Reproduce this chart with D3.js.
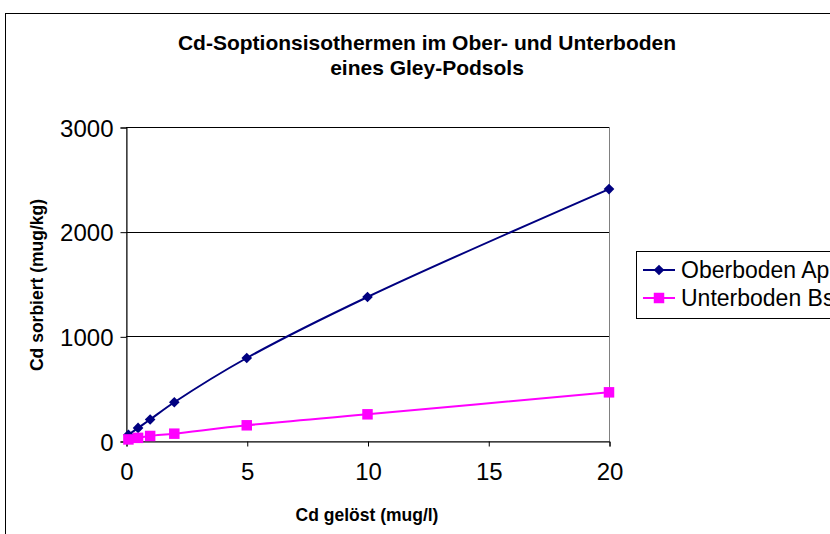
<!DOCTYPE html>
<html>
<head>
<meta charset="utf-8">
<script src="https://cdn.jsdelivr.net/npm/d3@7"></script>
<style>
  html, body { margin: 0; padding: 0; background: #fff; }
  svg { display: block; font-family: "Liberation Sans", Arial, sans-serif; }
</style>
</head>
<body>
<svg id="chart" width="830" height="534"></svg>
<script>
// Sorption isotherms: dissolved Cd (mug/l) vs sorbed Cd (mug/kg)
const concentrations = [0.1, 0.5, 1, 2, 5, 10, 20];
const oberbodenAp = [60, 125, 205, 370, 793, 1376, 2407];
const unterbodenBs = [15, 30, 48, 70, 150, 255, 465];
const seriesNames = ["Oberboden Ap", "Unterboden Bs"];
const xTicks = [0, 5, 10, 15, 20];
const yTicks = [0, 1000, 2000, 3000];
const titleLines = ["Cd-Soptionsisothermen im Ober- und Unterboden", "eines Gley-Podsols"];
const xTitle = "Cd gelöst (mug/l)";
const yTitle = "Cd sorbiert (mug/kg)";

const svg = d3.select("#chart");

// chart area frame
svg.append("rect")
  .attr("x", 5.5).attr("y", 13.5)
  .attr("width", 900).attr("height", 600)
  .attr("fill", "#fff").attr("stroke", "#000").attr("stroke-width", 1);

const plot = { left: 126, right: 609, top: 127, bottom: 441 };

const x = d3.scaleLinear().domain([0, 20]).range([plot.left, plot.right]);
const y = d3.scaleLinear().domain([0, 3000]).range([plot.bottom, plot.top]);

// plot area border
svg.append("rect")
  .attr("x", plot.left + 0.5).attr("y", plot.top + 0.5)
  .attr("width", plot.right - plot.left).attr("height", plot.bottom - plot.top)
  .attr("fill", "none").attr("stroke", "#808080").attr("stroke-width", 1);

// horizontal gridlines
svg.append("g")
  .selectAll("line")
  .data(yTicks.filter(d => d > 0))
  .join("line")
  .attr("x1", plot.left).attr("x2", plot.right)
  .attr("y1", d => Math.round(y(d)) + 0.5).attr("y2", d => Math.round(y(d)) + 0.5)
  .attr("stroke", "#000").attr("stroke-width", 1);

// axes
const xAxis = svg.append("g")
  .attr("transform", `translate(0.5,${plot.bottom + 0.5})`)
  .call(d3.axisBottom(x).tickValues(xTicks).tickSize(5).tickPadding(16).tickFormat(d3.format("d")));
const yAxis = svg.append("g")
  .attr("transform", `translate(${plot.left + 0.5},0.5)`)
  .call(d3.axisLeft(y).tickValues(yTicks).tickSize(6).tickPadding(7).tickFormat(d3.format("d")));

[xAxis, yAxis].forEach(g => {
  g.select(".domain").attr("stroke", "#000");
  g.selectAll(".tick line").attr("stroke", "#000");
  g.selectAll(".tick text")
    .attr("font-family", "Liberation Sans, Arial, sans-serif")
    .attr("font-size", 24).attr("fill", "#000");
});
yAxis.selectAll(".tick text").attr("dy", "0.36em");

// series
const colors = ["#000080", "#FF00FF"];
const symbols = [d3.symbolDiamond2, d3.symbolSquare];
const symSizes = [72, 110];
const allSeries = [oberbodenAp, unterbodenBs];

const line = d3.line()
  .x((d, i) => x(concentrations[i]))
  .y(d => y(d))
  .curve(d3.curveCatmullRom.alpha(0.5));

allSeries.forEach((vals, s) => {
  svg.append("path")
    .datum(vals)
    .attr("d", line)
    .attr("fill", "none")
    .attr("stroke", colors[s])
    .attr("stroke-width", 2);
  svg.append("g")
    .selectAll("path")
    .data(vals)
    .join("path")
    .attr("transform", (d, i) => `translate(${x(concentrations[i])},${y(d)})`)
    .attr("d", d3.symbol().type(symbols[s]).size(symSizes[s]))
    .attr("fill", colors[s]);
});

// title
svg.append("text")
  .attr("x", 427).attr("y", 50)
  .attr("text-anchor", "middle")
  .attr("font-weight", "bold").attr("font-size", 21)
  .selectAll("tspan")
  .data(titleLines)
  .join("tspan")
  .attr("x", 427)
  .attr("dy", (d, i) => i === 0 ? 0 : 25)
  .text(d => d);

// axis titles
svg.append("text")
  .attr("x", 367).attr("y", 521)
  .attr("text-anchor", "middle")
  .attr("font-weight", "bold").attr("font-size", 17.5)
  .text(xTitle);

svg.append("text")
  .attr("transform", "translate(43,285) rotate(-90)")
  .attr("text-anchor", "middle")
  .attr("font-weight", "bold").attr("font-size", 17.5)
  .text(yTitle);

// legend (the frame continues past the right edge of the canvas)
const legend = svg.append("g").attr("transform", "translate(636,251)");
legend.append("rect")
  .attr("x", 0.5).attr("y", 0.5)
  .attr("width", 260).attr("height", 67)
  .attr("fill", "#fff").attr("stroke", "#000");
seriesNames.forEach((name, s) => {
  const cy = 19 + s * 28;
  legend.append("line")
    .attr("x1", 7).attr("x2", 39)
    .attr("y1", cy).attr("y2", cy)
    .attr("stroke", colors[s]).attr("stroke-width", 2);
  legend.append("path")
    .attr("transform", `translate(23,${cy})`)
    .attr("d", d3.symbol().type(symbols[s]).size(symSizes[s]))
    .attr("fill", colors[s]);
  legend.append("text")
    .attr("x", 45).attr("y", cy)
    .attr("dy", "0.36em")
    .attr("font-size", 23)
    .text(name);
});
</script>
</body>
</html>
